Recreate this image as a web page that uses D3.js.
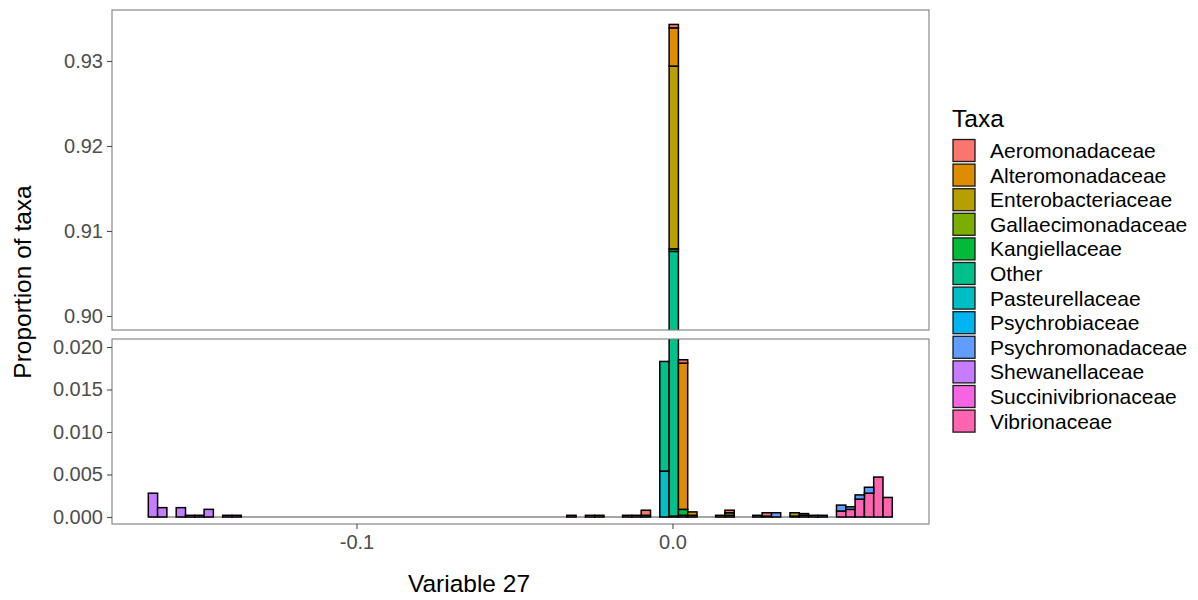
<!DOCTYPE html>
<html>
<head>
<meta charset="utf-8">
<script src="https://cdn.jsdelivr.net/npm/d3@7"></script>
<style>
  body { margin: 0; background: #fff; }
  text { font-family: "Liberation Sans", Arial, sans-serif; }
</style>
</head>
<body>
<script>

// --------------------------------------------------
// Data
// --------------------------------------------------

var taxa = ['Aeromonadaceae', 'Alteromonadaceae', 'Enterobacteriaceae', 'Gallaecimonadaceae',
    'Kangiellaceae', 'Other', 'Pasteurellaceae', 'Psychrobiaceae', 'Psychromonadaceae',
    'Shewanellaceae', 'Succinivibrionaceae', 'Vibrionaceae'];

var taxaColors = ['#F8766D', '#DE8C00', '#B79F00', '#7CAE00', '#00BA38', '#00C08B',
    '#00BFC4', '#00B4F0', '#619CFF', '#C77CFF', '#F564E3', '#FF64B0'];

var binWidth = 0.002943;

var binMid = [-0.16441, -0.16147, -0.15558, -0.15264, -0.14970, -0.14676, -0.14087, -0.13793,
    -0.03198, -0.02609, -0.02315, -0.01432, -0.01138, -0.00843, -0.00255, 0.00040, 0.00334, 0.00628,
    0.01511, 0.01806, 0.02688, 0.02983, 0.03277, 0.03865, 0.04160, 0.04454, 0.04748,
    0.05337, 0.05631, 0.05926, 0.06220, 0.06514, 0.06808];

var aeromonadaceae = [0, 0, 0, 0, 0, 0, 0, 0,
    0.0002, 0.0002, 0, 0.0002, 0.0002, 0.0006, 0, 0.0004, 0.0004, 0,
    0, 0.0003, 0, 0.0004, 0, 0, 0.0002, 0, 0,
    0, 0, 0, 0, 0, 0];
var alteromonadaceae = [0, 0, 0, 0, 0, 0, 0, 0,
    0, 0, 0, 0, 0, 0, 0, 0.0045, 0.0172, 0.0004,
    0, 0, 0, 0, 0, 0, 0, 0, 0,
    0, 0, 0, 0, 0, 0];
var enterobacteriaceae = [0, 0, 0, 0, 0, 0, 0, 0,
    0, 0, 0, 0, 0, 0, 0, 0.0215, 0, 0,
    0.0002, 0.0003, 0, 0, 0, 0.0004, 0, 0, 0,
    0, 0, 0, 0, 0, 0];
var gallaecimonadaceae = [0, 0, 0, 0, 0, 0, 0, 0,
    0, 0, 0.0002, 0, 0, 0, 0, 0, 0, 0,
    0, 0, 0, 0, 0, 0, 0, 0, 0,
    0, 0, 0, 0, 0, 0];
var kangiellaceae = [0, 0, 0, 0, 0, 0, 0, 0,
    0, 0, 0, 0, 0, 0, 0, 0.0003, 0.0007, 0,
    0, 0, 0, 0, 0, 0, 0, 0, 0,
    0, 0, 0, 0, 0, 0];
var other = [0, 0, 0, 0, 0, 0, 0, 0,
    0, 0, 0, 0, 0, 0.0002, 0.0129, 0.9075, 0, 0,
    0, 0, 0, 0, 0, 0, 0, 0, 0,
    0, 0, 0, 0, 0, 0];
var pasteurellaceae = [0, 0, 0, 0, 0, 0, 0, 0,
    0, 0, 0, 0, 0, 0, 0.0054, 0, 0, 0,
    0, 0, 0, 0, 0, 0, 0, 0, 0,
    0, 0, 0, 0, 0, 0];
var psychrobiaceae = [0, 0, 0, 0, 0, 0, 0, 0,
    0, 0, 0, 0, 0, 0, 0, 0, 0, 0,
    0, 0, 0, 0, 0, 0, 0, 0, 0,
    0, 0, 0, 0, 0, 0];
var psychromonadaceae = [0, 0, 0, 0, 0, 0, 0, 0,
    0, 0, 0, 0, 0, 0, 0, 0, 0, 0.0002,
    0, 0.0002, 0.0002, 0.0001, 0.0005, 0.0001, 0.0002, 0.0002, 0.0002,
    0.0007, 0.0003, 0.0005, 0.0007, 0, 0];
var shewanellaceae = [0.0028, 0.0011, 0.0011, 0.0002, 0.0002, 0.0009, 0.0002, 0.0002,
    0, 0, 0, 0, 0, 0, 0, 0, 0, 0,
    0, 0, 0, 0, 0, 0, 0, 0, 0,
    0, 0, 0, 0, 0, 0];
var succinivibrionaceae = [0, 0, 0, 0, 0, 0, 0, 0,
    0, 0, 0, 0, 0, 0, 0, 0, 0, 0,
    0, 0, 0, 0, 0, 0, 0, 0, 0,
    0, 0, 0, 0, 0, 0];
var vibrionaceae = [0, 0, 0, 0, 0, 0, 0, 0,
    0, 0, 0, 0, 0, 0, 0, 0.0001, 0.0002, 0,
    0, 0, 0, 0, 0, 0, 0, 0, 0,
    0.0007, 0.0009, 0.0021, 0.0028, 0.0047, 0.0023];

var seriesValues = [aeromonadaceae, alteromonadaceae, enterobacteriaceae, gallaecimonadaceae,
    kangiellaceae, other, pasteurellaceae, psychrobiaceae, psychromonadaceae,
    shewanellaceae, succinivibrionaceae, vibrionaceae];

var xTicks = [-0.1, 0.0];
var topTicks = [0.90, 0.91, 0.92, 0.93];
var bottomTicks = [0.000, 0.005, 0.010, 0.015, 0.020];

// --------------------------------------------------
// Layout
// --------------------------------------------------

var svg = d3.select('body').append('svg')
    .attr('width', 1198)
    .attr('height', 600);

var left = 112, right = 929;

var x = d3.scaleLinear()
    .domain([-0.17737, 0.08117])
    .range([left, right]);

var panels = [
    { id: 'top', y: d3.scaleLinear().domain([0.89835, 0.936]).range([330, 10]), ticks: topTicks, fmt: d3.format('.2f') },
    { id: 'bottom', y: d3.scaleLinear().domain([-0.000824, 0.02094]).range([524, 339]), ticks: bottomTicks, fmt: d3.format('.3f') }
];

// rows for d3.stack
var rows = binMid.map((m, i) => {
    var r = { mid: m };
    taxa.forEach((t, j) => r[t] = seriesValues[j][i]);
    return r;
});

// ggplot stacks first level on top -> reverse for bottom-up
var stack = d3.stack().keys(taxa.slice().reverse());
var stacked = stack(rows);
var colorOf = d3.scaleOrdinal().domain(taxa).range(taxaColors);

panels.forEach(p => {
    var y0 = p.y.range()[0], y1 = p.y.range()[1];

    svg.append('clipPath').attr('id', 'clip-' + p.id)
        .append('rect')
        .attr('x', left).attr('y', y1)
        .attr('width', right - left).attr('height', y0 - y1);

    var g = svg.append('g').attr('clip-path', 'url(#clip-' + p.id + ')');

    // baseline of empty bins
    g.append('line')
        .attr('x1', x(binMid[0] - binWidth / 2))
        .attr('x2', x(binMid[binMid.length - 1] + binWidth / 2))
        .attr('y1', p.y(0)).attr('y2', p.y(0))
        .attr('stroke', '#a6a6a6')
        .attr('stroke-width', 2);

    g.selectAll('.layer')
        .data(stacked)
        .enter().append('g')
        .attr('fill', d => colorOf(d.key))
        .selectAll('rect')
        .data(d => d.filter(s => s[1] - s[0] > 0))
        .enter().append('rect')
        .attr('x', d => x(d.data.mid - binWidth / 2))
        .attr('width', d => x(d.data.mid + binWidth / 2) - x(d.data.mid - binWidth / 2))
        .attr('y', d => p.y(d[1]))
        .attr('height', d => p.y(d[0]) - p.y(d[1]))
        .attr('stroke', '#000')
        .attr('stroke-width', 1.5);

    // panel border
    svg.append('rect')
        .attr('x', left).attr('y', y1)
        .attr('width', right - left).attr('height', y0 - y1)
        .attr('fill', 'none')
        .attr('stroke', '#7f7f7f')
        .attr('stroke-width', 1.1);

    // y axis
    var yAxis = svg.append('g')
        .attr('transform', 'translate(' + left + ',0)')
        .call(d3.axisLeft(p.y).tickValues(p.ticks).tickFormat(p.fmt).tickSize(5).tickPadding(4));
    yAxis.select('.domain').remove();
    yAxis.selectAll('line').attr('stroke', '#4d4d4d').attr('stroke-width', 1.1);
    yAxis.selectAll('text').attr('fill', '#4d4d4d').style('font-size', '20px')
        .style('font-family', '"Liberation Sans", Arial, sans-serif');
});

// x axis (plain hyphen for negatives, like R)
var xAxis = svg.append('g')
    .attr('transform', 'translate(0,524)')
    .call(d3.axisBottom(x).tickValues(xTicks)
        .tickFormat(d => d3.format('.1f')(d).replace('\u2212', '-'))
        .tickSize(5).tickPadding(6));
xAxis.select('.domain').remove();
xAxis.selectAll('line').attr('stroke', '#4d4d4d').attr('stroke-width', 1.1);
xAxis.selectAll('text').attr('fill', '#4d4d4d').style('font-size', '20px')
    .style('font-family', '"Liberation Sans", Arial, sans-serif');

// axis titles
svg.append('text')
    .attr('x', 469).attr('y', 592)
    .attr('text-anchor', 'middle')
    .style('font-size', '24.5px')
    .text('Variable 27');

svg.append('text')
    .attr('transform', 'translate(31,282) rotate(-90)')
    .attr('text-anchor', 'middle')
    .style('font-size', '24.5px')
    .text('Proportion of taxa');

// --------------------------------------------------
// Legend
// --------------------------------------------------

var legend = svg.append('g');

legend.append('text')
    .attr('x', 952).attr('y', 127)
    .style('font-size', '24.5px')
    .text('Taxa');

var item = legend.selectAll('.item')
    .data(taxa)
    .enter().append('g')
    .attr('transform', (d, i) => 'translate(953,' + (139.5 + i * 24.6) + ')');

item.append('rect')
    .attr('width', 22).attr('height', 22)
    .attr('fill', d => colorOf(d))
    .attr('stroke', '#1a1a1a')
    .attr('stroke-width', 1.3);

item.append('text')
    .attr('x', 37).attr('y', 11)
    .attr('dy', '0.36em')
    .style('font-size', '21px')
    .text(d => d);

</script>
</body>
</html>
